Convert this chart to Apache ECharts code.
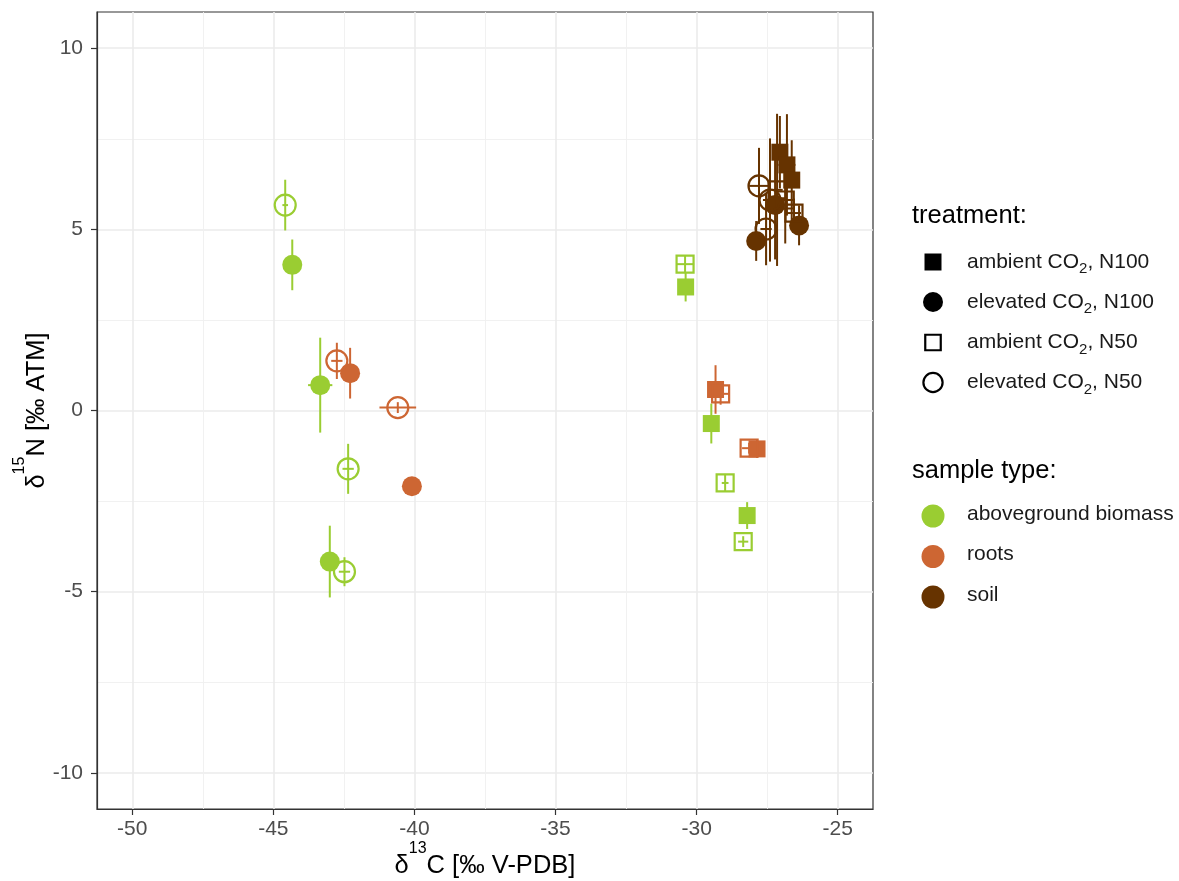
<!DOCTYPE html>
<html>
<head>
<meta charset="utf-8">
<script src="https://cdn.jsdelivr.net/npm/echarts@6/dist/echarts.min.js"></script>
<style>
  html, body { margin: 0; padding: 0; background: #ffffff; }
  #chart { width: 1179px; height: 881px; }
</style>
</head>
<body>
<div id="chart"></div>
<script>
// ---- data: isotope signatures (mean ± sd) per sample type and treatment ----
const treatmentNames = ['ambient CO2, N100', 'elevated CO2, N100', 'ambient CO2, N50', 'elevated CO2, N50'];
const sampleTypeNames = ['aboveground biomass', 'roots', 'soil'];

const xTicks = [-50, -45, -40, -35, -30, -25];
const yTicks = [-10, -5, 0, 5, 10];

// aboveground biomass
const biomassTreatment = [0, 0, 0, 1, 1, 1, 2, 2, 2, 3, 3, 3];
const biomassC   = [-30.39, -29.48, -28.21, -44.33, -43.34, -43.00, -30.41, -28.99, -28.35, -44.58, -42.35, -42.48];
const biomassN   = [3.41, -0.36, -2.90, 4.02, 0.70, -4.17, 4.04, -2.00, -3.62, 5.67, -1.61, -4.45];
const biomassCsd = [0.10, 0.10, 0.10, 0.15, 0.43, 0.15, 0.32, 0.12, 0.18, 0.10, 0.20, 0.20];
const biomassNsd = [0.40, 0.55, 0.37, 0.70, 1.31, 0.99, 0.25, 0.25, 0.15, 0.70, 0.69, 0.40];

// roots
const rootsTreatment = [0, 0, 1, 1, 2, 2, 3, 3];
const rootsC   = [-29.33, -27.86, -42.28, -40.09, -29.15, -28.14, -42.75, -40.59];
const rootsN   = [0.58, -1.06, 1.03, -2.09, 0.46, -1.04, 1.37, 0.08];
const rootsCsd = [0.10, 0.10, 0.15, 0.10, 0.30, 0.25, 0.20, 0.65];
const rootsNsd = [0.67, 0.25, 0.70, 0.10, 0.30, 0.15, 0.50, 0.15];

// soil
const soilTreatment = [0, 0, 0, 1, 1, 1, 2, 2, 2, 3, 3, 3];
const soilC   = [-27.05, -26.80, -26.63, -27.89, -26.37, -27.22, -26.55, -27.15, -26.86, -27.79, -27.54, -27.40];
const soilN   = [7.13, 6.78, 6.36, 4.68, 5.11, 5.67, 5.45, 6.09, 5.81, 6.20, 5.01, 5.81];
const soilCsd = [0.20, 0.30, 0.20, 0.15, 0.15, 0.20, 0.25, 0.20, 0.30, 0.35, 0.20, 0.25];
const soilNsd = [1.00, 1.40, 1.10, 0.55, 0.55, 1.50, 0.40, 2.10, 1.20, 1.05, 1.00, 1.70];

// ---- styling ----
const FONT = '"Liberation Sans", Arial, Helvetica, sans-serif';
const typeColors = ['#9ACD32', '#CD6633', '#663300'];
// marker look per treatment: filled square, filled circle, open square, open circle
const treatmentMarkers = [
  { symbol: 'rect',   size: 17, open: false },
  { symbol: 'circle', size: 20, open: false },
  { symbol: 'rect',   size: 17, open: true },
  { symbol: 'circle', size: 21, open: true }
];

const groups = [
  { t: biomassTreatment, c: biomassC, n: biomassN, cs: biomassCsd, ns: biomassNsd },
  { t: rootsTreatment,   c: rootsC,   n: rootsN,   cs: rootsCsd,   ns: rootsNsd },
  { t: soilTreatment,    c: soilC,    n: soilN,    cs: soilCsd,    ns: soilNsd }
];

const series = [];

// error bars (no caps) drawn first, points on top
groups.forEach((g, gi) => {
  const rows = g.c.map((x, i) => [x, g.n[i], x - g.cs[i], x + g.cs[i], g.n[i] - g.ns[i], g.n[i] + g.ns[i]]);
  series.push({
    type: 'custom',
    name: sampleTypeNames[gi] + ' sd',
    data: rows,
    encode: { x: [0, 2, 3], y: [1, 4, 5] },
    silent: true,
    z: 2,
    renderItem: function (params, api) {
      const x = api.value(0), y = api.value(1);
      const a = api.coord([api.value(2), y]);
      const b = api.coord([api.value(3), y]);
      const c = api.coord([x, api.value(4)]);
      const d = api.coord([x, api.value(5)]);
      const st = { stroke: typeColors[gi], lineWidth: 2, fill: null };
      return {
        type: 'group',
        children: [
          { type: 'line', shape: { x1: a[0], y1: a[1], x2: b[0], y2: b[1] }, style: st },
          { type: 'line', shape: { x1: c[0], y1: c[1], x2: d[0], y2: d[1] }, style: st }
        ]
      };
    }
  });
});

groups.forEach((g, gi) => {
  treatmentMarkers.forEach((m, ti) => {
    const pts = [];
    g.t.forEach((tt, i) => { if (tt === ti) pts.push([g.c[i], g.n[i]]); });
    if (!pts.length) return;
    series.push({
      type: 'scatter',
      name: sampleTypeNames[gi] + ' / ' + treatmentNames[ti],
      data: pts,
      symbol: m.symbol,
      symbolSize: m.size,
      silent: true,
      z: 3,
      itemStyle: m.open
        ? { color: 'rgba(0,0,0,0)', borderColor: typeColors[gi], borderWidth: 2.2, opacity: 1 }
        : { color: typeColors[gi], borderWidth: 0, opacity: 1 },
      emphasis: { disabled: true }
    });
  });
});

// ---- legend (drawn with graphic elements) ----
const legendX = 933, legendTextX = 967;
const graphics = [];
graphics.push({
  type: 'text', x: 912, y: 216, silent: true,
  style: { text: 'treatment:', fontSize: 25.5, fontFamily: FONT, fill: '#000', verticalAlign: 'middle', align: 'left' }
});
const tRows = [262, 302, 342.5, 382.5];
const subRich = {
  a: { fontSize: 21, fontFamily: FONT, fill: '#1a1a1a', lineHeight: 24 },
  s: { fontSize: 15, fontFamily: FONT, fill: '#1a1a1a', lineHeight: 16, padding: [14, 0, 0, 0] }
};
treatmentNames.forEach((name, i) => {
  const m = treatmentMarkers[i];
  const y = tRows[i];
  if (m.symbol === 'rect') {
    const s = m.open ? 15.5 : 17;
    graphics.push({
      type: 'rect', silent: true,
      shape: { x: legendX - s / 2, y: y - s / 2, width: s, height: s },
      style: m.open ? { fill: 'none', stroke: '#000', lineWidth: 2.2 } : { fill: '#000' }
    });
  } else {
    graphics.push({
      type: 'circle', silent: true,
      shape: { cx: legendX, cy: y, r: m.open ? 9.6 : 10 },
      style: m.open ? { fill: 'none', stroke: '#000', lineWidth: 2.2 } : { fill: '#000' }
    });
  }
  const parts = name.split('CO2');
  graphics.push({
    type: 'text', x: legendTextX, y: y, silent: true,
    style: {
      text: '{a|' + parts[0] + 'CO}{s|2}{a|' + parts[1] + '}',
      rich: subRich, verticalAlign: 'middle', align: 'left'
    }
  });
});

graphics.push({
  type: 'text', x: 912, y: 471, silent: true,
  style: { text: 'sample type:', fontSize: 25.5, fontFamily: FONT, fill: '#000', verticalAlign: 'middle', align: 'left' }
});
const sRows = [516, 556.5, 597];
sampleTypeNames.forEach((name, i) => {
  graphics.push({
    type: 'circle', silent: true,
    shape: { cx: legendX, cy: sRows[i], r: 11.5 },
    style: { fill: typeColors[i] }
  });
  graphics.push({
    type: 'text', x: legendTextX, y: sRows[i] - 2, silent: true,
    style: { text: name, fontSize: 21, fontFamily: FONT, fill: '#1a1a1a', verticalAlign: 'middle', align: 'left' }
  });
});

// ---- axes ----
const tickLabelStyle = { color: '#4D4D4D', fontSize: 21, fontFamily: FONT };
const nameRich = {
  a: { fontSize: 25.5, fontFamily: FONT, color: '#000', lineHeight: 30 },
  sup: { fontSize: 16, fontFamily: FONT, color: '#000', lineHeight: 16, padding: [0, 0, 34, 0] }
};

const option = {
  animation: false,
  backgroundColor: '#ffffff',
  grid: {
    left: 97, top: 12, right: 306, bottom: 72,
    show: true, borderColor: '#333333', borderWidth: 1.2, backgroundColor: '#ffffff',
    containLabel: false, outerBoundsMode: 'none'
  },
  xAxis: {
    type: 'value',
    min: -51.25, max: -23.75,
    splitNumber: 5,
    name: '{a|δ}{sup|13}{a|C [‰ V-PDB]}',
    nameLocation: 'middle',
    nameGap: 42,
    nameMoveOverlap: false,
    nameTextStyle: { rich: nameRich },
    axisLine: { show: true, onZero: false, lineStyle: { color: '#333333', width: 1.2 } },
    axisTick: { show: true, length: 6, customValues: xTicks, lineStyle: { color: '#333333', width: 1.2 } },
    axisLabel: { show: true, margin: 10, customValues: xTicks, ...tickLabelStyle },
    splitLine: { show: true, lineStyle: { color: '#EBEBEB', width: 1.6 } },
    minorTick: { show: false, splitNumber: 2 },
    minorSplitLine: { show: true, lineStyle: { color: '#EFEFEF', width: 0.9 } }
  },
  yAxis: {
    type: 'value',
    min: -11, max: 11,
    splitNumber: 4,
    name: '{a|δ}{sup|15}{a|N [‰ ATM]}',
    nameLocation: 'middle',
    nameGap: 45,
    nameMoveOverlap: false,
    nameTextStyle: { rich: nameRich },
    axisLine: { show: true, onZero: false, lineStyle: { color: '#333333', width: 1.2 } },
    axisTick: { show: true, length: 6, customValues: yTicks, lineStyle: { color: '#333333', width: 1.2 } },
    axisLabel: { show: true, margin: 14, customValues: yTicks, ...tickLabelStyle },
    splitLine: { show: true, lineStyle: { color: '#EBEBEB', width: 1.6 } },
    minorTick: { show: false, splitNumber: 2 },
    minorSplitLine: { show: true, lineStyle: { color: '#EFEFEF', width: 0.9 } }
  },
  graphic: graphics,
  series: series
};

const chart = echarts.init(document.getElementById('chart'), null, { renderer: 'canvas' });
chart.setOption(option);
</script>
</body>
</html>
